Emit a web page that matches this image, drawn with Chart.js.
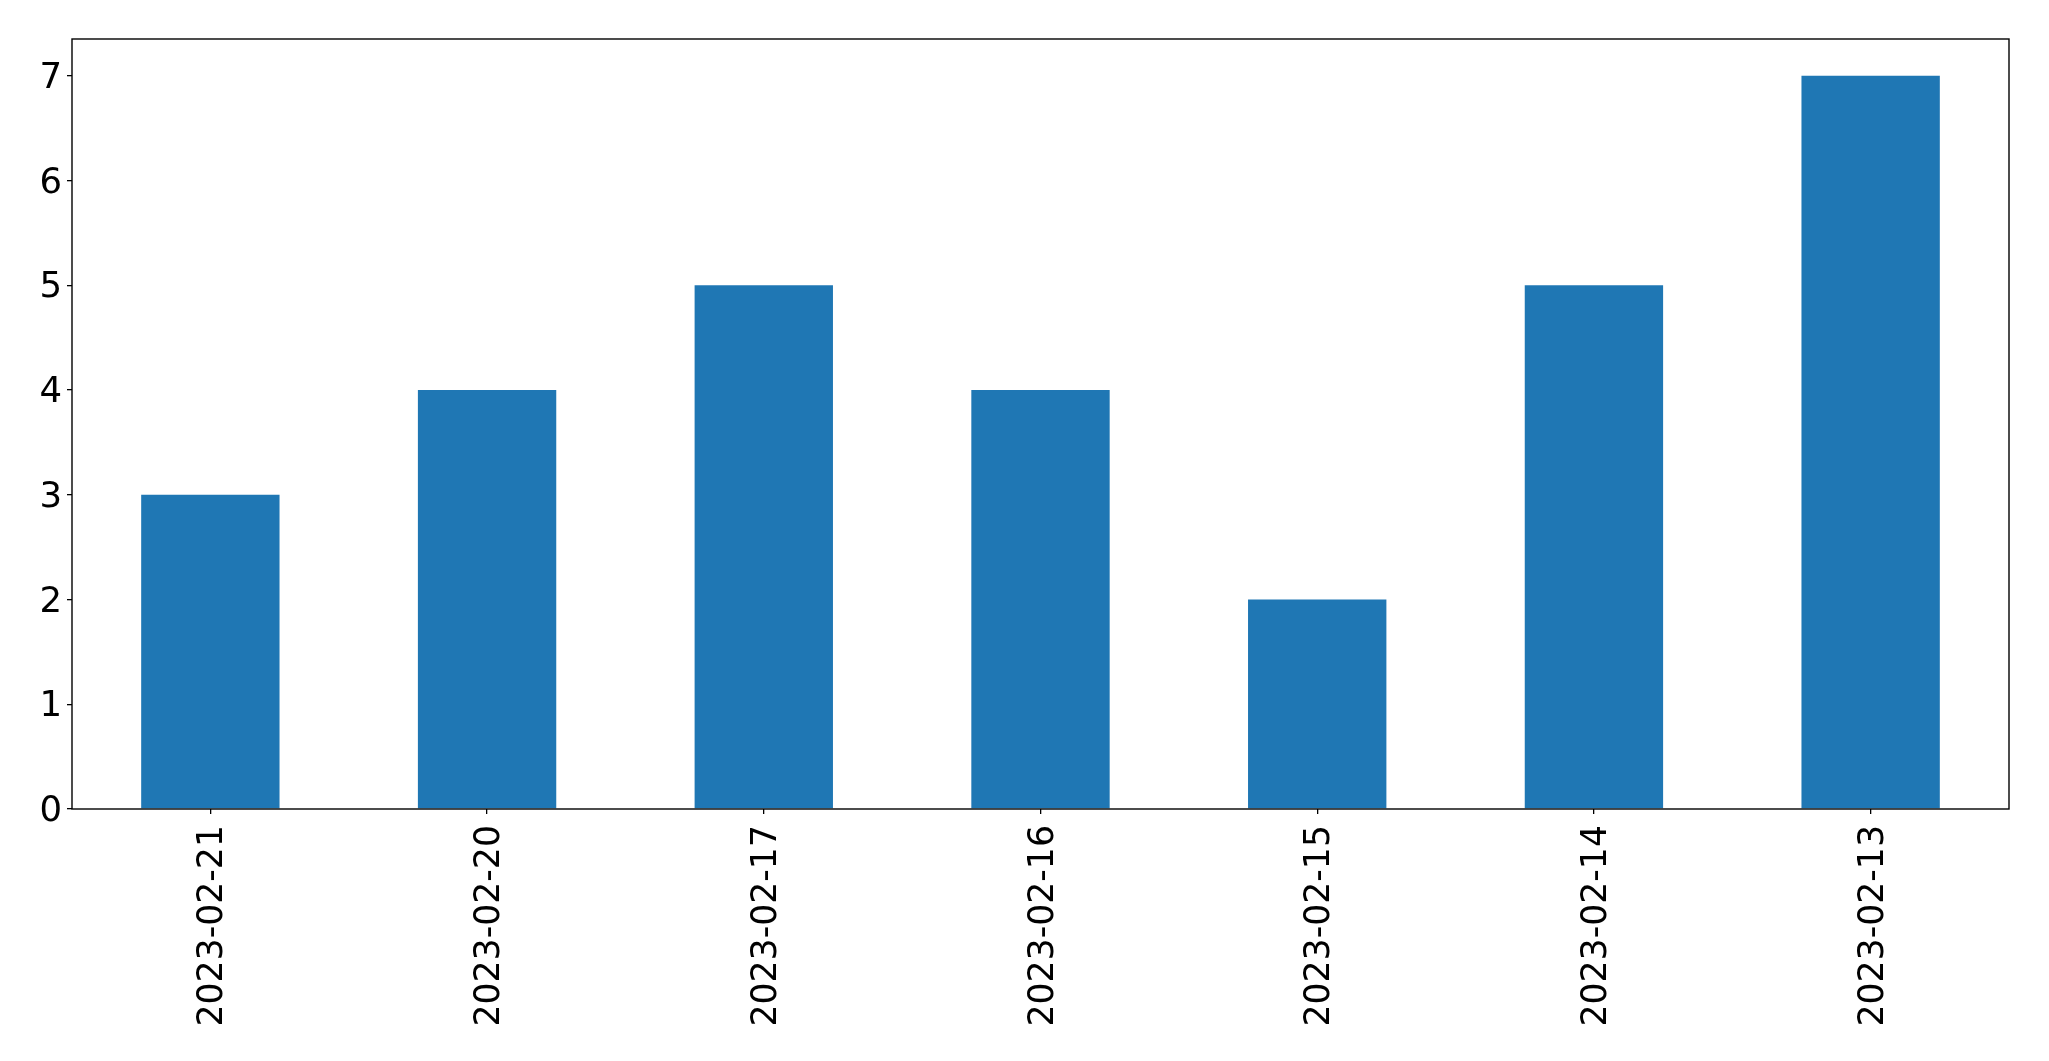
<!DOCTYPE html>
<html><head><meta charset="utf-8">
<script src="https://cdn.jsdelivr.net/npm/chart.js@4"></script>
<style>html,body{margin:0;padding:0;background:#fff}#wrap{width:2049px;height:1061px}</style>
</head><body><div id="wrap"><canvas id="c" width="2049" height="1061"></canvas></div>
<script>
const categories = ["2023-02-21","2023-02-20","2023-02-17","2023-02-16","2023-02-15","2023-02-14","2023-02-13"];
const counts = [3,4,5,4,2,5,7];
const yTicks = [0,1,2,3,4,5,6,7];

const frame = {id:'frame', afterDatasetsDraw(chart){const a=chart.chartArea,ctx=chart.ctx;ctx.save();ctx.strokeStyle='#000';ctx.lineWidth=1.4;ctx.strokeRect(a.left,a.top,a.right-a.left,a.bottom-a.top);ctx.restore();}};

new Chart(document.getElementById('c'), {
  type:'bar',
  data:{labels:categories, datasets:[{data:counts, backgroundColor:'#1f77b4', borderWidth:0, categoryPercentage:0.5, barPercentage:1}]},
  options:{
    responsive:false, animation:false, devicePixelRatio:1,
    layout:{padding:{top:39,right:40,left:0,bottom:0}},
    plugins:{legend:{display:false}, tooltip:{enabled:false}},
    scales:{
      x:{
        grid:{drawOnChartArea:false, offset:false, tickLength:5, color:'#000', lineWidth:1.3},
        border:{display:false},
        ticks:{color:'#000', font:{family:'DejaVu Sans', size:34.7}, minRotation:90, maxRotation:90, padding:11, labelOffset:3, autoSkip:false},
        afterFit(s){s.height=252;}
      },
      y:{
        min:0, max:7.35,
        grid:{drawOnChartArea:false, tickLength:5, color:'#000', lineWidth:1.3},
        border:{display:false},
        ticks:{color:'#000', font:{family:'DejaVu Sans', size:35.5}, stepSize:1, padding:5, labelOffset:3},
        afterBuildTicks(s){s.ticks = yTicks.map(v=>({value:v}));},
        afterFit(s){s.width=72;}
      }
    }
  },
  plugins:[frame]
});
</script></body></html>
